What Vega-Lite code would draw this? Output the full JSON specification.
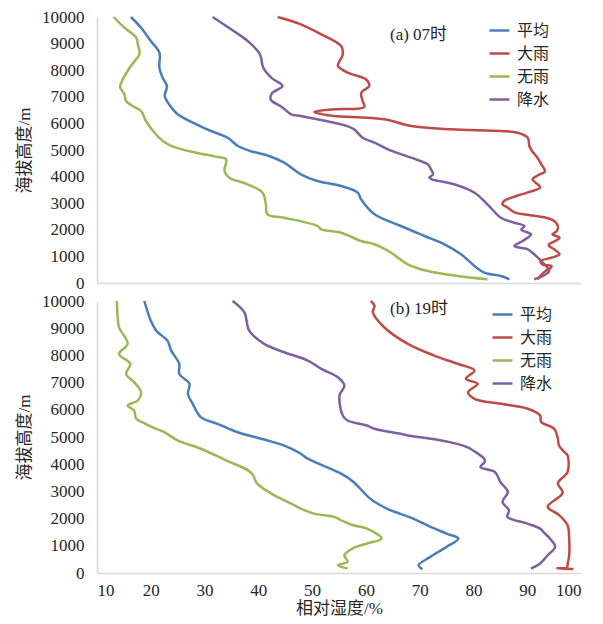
{
  "$schema": "https://vega.github.io/schema/vega-lite/v6.json",
  "background": "white",
  "padding": {"left": 15, "top": 8, "right": 10, "bottom": 4},
  "config": {
    "view": {"stroke": null},
    "axis": {"grid": false, "ticks": false, "domainColor": "#d9d9d9", "domainWidth": 1.5,
      "labelFont": "Liberation Serif", "labelFontSize": 17, "labelColor": "#262626",
      "titleFont": "Liberation Serif, Noto Sans CJK SC", "titleFontSize": 17, "titleFontWeight": "normal", "titleColor": "#262626"},
    "legend": {"symbolType": "stroke", "symbolStrokeWidth": 2.5, "symbolSize": 400, "labelFont": "Noto Sans CJK SC", "labelFontSize": 16, "labelColor": "#262626", "rowPadding": 3, "labelOffset": 6, "padding": 0},
    "title": {"font": "Liberation Serif, Noto Sans CJK SC", "fontSize": 17, "fontWeight": "normal", "color": "#262626", "anchor": "start", "frame": "group", "baseline": "middle"}
  },
  "spacing": 1,
  "resolve": {"legend": {"color": "independent"}},
  "data": {"values": [
    {"t":"a","s":"平均","alt":10000,"rh":16.3},{"t":"a","s":"平均","alt":9598,"rh":18.2},{"t":"a","s":"平均","alt":9098,"rh":20.0},{"t":"a","s":"平均","alt":8658,"rh":21.6},{"t":"a","s":"平均","alt":8094,"rh":21.6},{"t":"a","s":"平均","alt":7718,"rh":22.2},{"t":"a","s":"平均","alt":7406,"rh":23.0},{"t":"a","s":"平均","alt":7030,"rh":22.6},{"t":"a","s":"平均","alt":6718,"rh":23.4},{"t":"a","s":"平均","alt":6342,"rh":25.0},{"t":"a","s":"平均","alt":5966,"rh":28.5},{"t":"a","s":"平均","alt":5714,"rh":31.2},{"t":"a","s":"平均","alt":5462,"rh":34.3},{"t":"a","s":"平均","alt":5150,"rh":36.2},{"t":"a","s":"平均","alt":4962,"rh":38.5},{"t":"a","s":"平均","alt":4774,"rh":42.0},{"t":"a","s":"平均","alt":4523,"rh":44.8},{"t":"a","s":"平均","alt":4087,"rh":47.9},{"t":"a","s":"平均","alt":3835,"rh":51.0},{"t":"a","s":"平均","alt":3647,"rh":55.4},{"t":"a","s":"平均","alt":3395,"rh":58.5},{"t":"a","s":"平均","alt":3146,"rh":59.1},{"t":"a","s":"平均","alt":2583,"rh":61.6},{"t":"a","s":"平均","alt":2143,"rh":66.5},{"t":"a","s":"平均","alt":1767,"rh":70.9},{"t":"a","s":"平均","alt":1455,"rh":74.6},{"t":"a","s":"平均","alt":1079,"rh":77.7},{"t":"a","s":"平均","alt":639,"rh":80.2},{"t":"a","s":"平均","alt":387,"rh":82.0},{"t":"a","s":"平均","alt":263,"rh":85.1},{"t":"a","s":"平均","alt":139,"rh":86.7},
    {"t":"a","s":"无雨","alt":10000,"rh":13.1},{"t":"a","s":"无雨","alt":9598,"rh":15.1},{"t":"a","s":"无雨","alt":9222,"rh":17.3},{"t":"a","s":"无雨","alt":8974,"rh":17.6},{"t":"a","s":"无雨","alt":8620,"rh":17.9},{"t":"a","s":"无雨","alt":8158,"rh":16.3},{"t":"a","s":"无雨","alt":7657,"rh":14.8},{"t":"a","s":"无雨","alt":7368,"rh":14.3},{"t":"a","s":"无雨","alt":7094,"rh":15.1},{"t":"a","s":"无雨","alt":6842,"rh":15.4},{"t":"a","s":"无雨","alt":6654,"rh":16.6},{"t":"a","s":"无雨","alt":6466,"rh":18.2},{"t":"a","s":"无雨","alt":6090,"rh":19.1},{"t":"a","s":"无雨","alt":5650,"rh":20.7},{"t":"a","s":"无雨","alt":5300,"rh":22.5},{"t":"a","s":"无雨","alt":5100,"rh":24.5},{"t":"a","s":"无雨","alt":4900,"rh":28.5},{"t":"a","s":"无雨","alt":4750,"rh":32.0},{"t":"a","s":"无雨","alt":4650,"rh":34.0},{"t":"a","s":"无雨","alt":4211,"rh":33.7},{"t":"a","s":"无雨","alt":3959,"rh":34.6},{"t":"a","s":"无雨","alt":3710,"rh":38.0},{"t":"a","s":"无雨","alt":3395,"rh":40.8},{"t":"a","s":"无雨","alt":2959,"rh":41.4},{"t":"a","s":"无雨","alt":2583,"rh":41.7},{"t":"a","s":"无雨","alt":2455,"rh":44.8},{"t":"a","s":"无雨","alt":2143,"rh":51.0},{"t":"a","s":"无雨","alt":2019,"rh":51.7},{"t":"a","s":"无雨","alt":1891,"rh":55.4},{"t":"a","s":"无雨","alt":1579,"rh":59.1},{"t":"a","s":"无雨","alt":1455,"rh":61.6},{"t":"a","s":"无雨","alt":1139,"rh":64.7},{"t":"a","s":"无雨","alt":703,"rh":67.8},{"t":"a","s":"无雨","alt":451,"rh":71.5},{"t":"a","s":"无雨","alt":263,"rh":77.1},{"t":"a","s":"无雨","alt":139,"rh":82.6},
    {"t":"a","s":"降水","alt":10000,"rh":31.5},{"t":"a","s":"降水","alt":9500,"rh":35.2},{"t":"a","s":"降水","alt":9100,"rh":38.0},{"t":"a","s":"降水","alt":8600,"rh":40.3},{"t":"a","s":"降水","alt":8100,"rh":40.9},{"t":"a","s":"降水","alt":7700,"rh":42.5},{"t":"a","s":"降水","alt":7406,"rh":44.5},{"t":"a","s":"降水","alt":7150,"rh":42.6},{"t":"a","s":"降水","alt":6900,"rh":42.3},{"t":"a","s":"降水","alt":6600,"rh":44.5},{"t":"a","s":"降水","alt":6342,"rh":46.1},{"t":"a","s":"降水","alt":6278,"rh":47.9},{"t":"a","s":"降水","alt":6154,"rh":51.0},{"t":"a","s":"降水","alt":6026,"rh":54.1},{"t":"a","s":"降水","alt":5900,"rh":56.5},{"t":"a","s":"降水","alt":5778,"rh":57.8},{"t":"a","s":"降水","alt":5462,"rh":59.4},{"t":"a","s":"降水","alt":5274,"rh":61.6},{"t":"a","s":"降水","alt":5026,"rh":64.1},{"t":"a","s":"降水","alt":4711,"rh":68.4},{"t":"a","s":"降水","alt":4462,"rh":71.5},{"t":"a","s":"降水","alt":4274,"rh":72.1},{"t":"a","s":"降水","alt":4087,"rh":72.5},{"t":"a","s":"降水","alt":3959,"rh":71.8},{"t":"a","s":"降水","alt":3898,"rh":72.3},{"t":"a","s":"降水","alt":3710,"rh":76.4},{"t":"a","s":"降水","alt":3395,"rh":80.2},{"t":"a","s":"降水","alt":2959,"rh":82.6},{"t":"a","s":"降水","alt":2455,"rh":85.1},{"t":"a","s":"降水","alt":2267,"rh":87.6},{"t":"a","s":"降水","alt":2143,"rh":89.5},{"t":"a","s":"降水","alt":2000,"rh":88.9},{"t":"a","s":"降水","alt":1831,"rh":90.7},{"t":"a","s":"降水","alt":1600,"rh":89.3},{"t":"a","s":"降水","alt":1391,"rh":87.6},{"t":"a","s":"降水","alt":1267,"rh":90.1},{"t":"a","s":"降水","alt":1079,"rh":91.3},{"t":"a","s":"降水","alt":827,"rh":92.6},{"t":"a","s":"降水","alt":639,"rh":93.5},{"t":"a","s":"降水","alt":451,"rh":94.1},{"t":"a","s":"降水","alt":263,"rh":92.9},{"t":"a","s":"降水","alt":139,"rh":91.3},
    {"t":"a","s":"大雨","alt":10000,"rh":43.6},{"t":"a","s":"大雨","alt":9725,"rh":47.9},{"t":"a","s":"大雨","alt":9349,"rh":51.7},{"t":"a","s":"大雨","alt":8910,"rh":55.4},{"t":"a","s":"大雨","alt":8598,"rh":55.7},{"t":"a","s":"大雨","alt":8300,"rh":55.0},{"t":"a","s":"大雨","alt":8158,"rh":54.8},{"t":"a","s":"大雨","alt":7906,"rh":56.6},{"t":"a","s":"大雨","alt":7658,"rh":60.0},{"t":"a","s":"大雨","alt":7406,"rh":60.6},{"t":"a","s":"大雨","alt":7200,"rh":59.3},{"t":"a","s":"大雨","alt":7094,"rh":59.1},{"t":"a","s":"大雨","alt":6842,"rh":59.4},{"t":"a","s":"大雨","alt":6617,"rh":59.7},{"t":"a","s":"大雨","alt":6530,"rh":54.1},{"t":"a","s":"大雨","alt":6430,"rh":50.4},{"t":"a","s":"大雨","alt":6340,"rh":52.0},{"t":"a","s":"大雨","alt":6278,"rh":54.1},{"t":"a","s":"大雨","alt":6154,"rh":63.4},{"t":"a","s":"大雨","alt":5902,"rh":68.4},{"t":"a","s":"大雨","alt":5778,"rh":75.8},{"t":"a","s":"大雨","alt":5714,"rh":85.1},{"t":"a","s":"大雨","alt":5650,"rh":88.2},{"t":"a","s":"大雨","alt":5462,"rh":90.1},{"t":"a","s":"大雨","alt":5150,"rh":90.4},{"t":"a","s":"大雨","alt":4962,"rh":90.9},{"t":"a","s":"大雨","alt":4711,"rh":91.9},{"t":"a","s":"大雨","alt":4400,"rh":92.8},{"t":"a","s":"大雨","alt":4200,"rh":93.3},{"t":"a","s":"大雨","alt":4050,"rh":92.0},{"t":"a","s":"大雨","alt":3898,"rh":91.0},{"t":"a","s":"大雨","alt":3700,"rh":92.0},{"t":"a","s":"大雨","alt":3583,"rh":92.4},{"t":"a","s":"大雨","alt":3400,"rh":90.0},{"t":"a","s":"大雨","alt":3271,"rh":88.0},{"t":"a","s":"大雨","alt":3083,"rh":85.7},{"t":"a","s":"大雨","alt":2959,"rh":85.4},{"t":"a","s":"大雨","alt":2831,"rh":86.4},{"t":"a","s":"大雨","alt":2643,"rh":87.8},{"t":"a","s":"大雨","alt":2550,"rh":90.5},{"t":"a","s":"大雨","alt":2455,"rh":93.5},{"t":"a","s":"大雨","alt":2331,"rh":95.0},{"t":"a","s":"大雨","alt":2143,"rh":95.7},{"t":"a","s":"大雨","alt":1950,"rh":95.5},{"t":"a","s":"大雨","alt":1831,"rh":94.7},{"t":"a","s":"大雨","alt":1703,"rh":96.0},{"t":"a","s":"大雨","alt":1579,"rh":95.2},{"t":"a","s":"大雨","alt":1450,"rh":94.0},{"t":"a","s":"大雨","alt":1391,"rh":94.1},{"t":"a","s":"大雨","alt":1267,"rh":95.0},{"t":"a","s":"大雨","alt":1079,"rh":96.0},{"t":"a","s":"大雨","alt":950,"rh":94.5},{"t":"a","s":"大雨","alt":827,"rh":92.5},{"t":"a","s":"大雨","alt":703,"rh":92.8},{"t":"a","s":"大雨","alt":639,"rh":94.5},{"t":"a","s":"大雨","alt":575,"rh":94.4},{"t":"a","s":"大雨","alt":451,"rh":93.4},{"t":"a","s":"大雨","alt":300,"rh":92.6},{"t":"a","s":"大雨","alt":139,"rh":91.9},
    {"t":"b","s":"平均","alt":10000,"rh":18.8},{"t":"b","s":"平均","alt":9277,"rh":20.0},{"t":"b","s":"平均","alt":8910,"rh":21.0},{"t":"b","s":"平均","alt":8543,"rh":23.1},{"t":"b","s":"平均","alt":8176,"rh":23.8},{"t":"b","s":"平均","alt":7688,"rh":25.3},{"t":"b","s":"平均","alt":7321,"rh":25.3},{"t":"b","s":"平均","alt":6954,"rh":27.2},{"t":"b","s":"平均","alt":6587,"rh":26.9},{"t":"b","s":"平均","alt":6220,"rh":27.8},{"t":"b","s":"平均","alt":5732,"rh":29.3},{"t":"b","s":"平均","alt":5486,"rh":32.4},{"t":"b","s":"平均","alt":5182,"rh":36.0},{"t":"b","s":"平均","alt":4998,"rh":39.3},{"t":"b","s":"平均","alt":4873,"rh":41.7},{"t":"b","s":"平均","alt":4631,"rh":45.5},{"t":"b","s":"平均","alt":4385,"rh":47.9},{"t":"b","s":"平均","alt":4202,"rh":49.2},{"t":"b","s":"平均","alt":3651,"rh":55.4},{"t":"b","s":"平均","alt":3347,"rh":57.7},{"t":"b","s":"平均","alt":2734,"rh":60.8},{"t":"b","s":"平均","alt":2367,"rh":63.9},{"t":"b","s":"平均","alt":2000,"rh":68.8},{"t":"b","s":"平均","alt":1695,"rh":72.0},{"t":"b","s":"平均","alt":1450,"rh":75.0},{"t":"b","s":"平均","alt":1266,"rh":77.2},{"t":"b","s":"平均","alt":961,"rh":75.0},{"t":"b","s":"平均","alt":594,"rh":72.0},{"t":"b","s":"平均","alt":286,"rh":69.8},{"t":"b","s":"平均","alt":140,"rh":70.5},
    {"t":"b","s":"无雨","alt":10000,"rh":13.7},{"t":"b","s":"无雨","alt":9523,"rh":13.8},{"t":"b","s":"无雨","alt":9035,"rh":14.1},{"t":"b","s":"无雨","alt":8422,"rh":15.7},{"t":"b","s":"无雨","alt":8055,"rh":14.1},{"t":"b","s":"无雨","alt":7688,"rh":16.2},{"t":"b","s":"无雨","alt":7321,"rh":15.4},{"t":"b","s":"无雨","alt":7017,"rh":16.9},{"t":"b","s":"无雨","alt":6650,"rh":18.2},{"t":"b","s":"无雨","alt":6342,"rh":17.6},{"t":"b","s":"无雨","alt":6158,"rh":15.7},{"t":"b","s":"无雨","alt":5974,"rh":16.9},{"t":"b","s":"无雨","alt":5670,"rh":17.3},{"t":"b","s":"无雨","alt":5486,"rh":19.0},{"t":"b","s":"无雨","alt":5300,"rh":21.0},{"t":"b","s":"无雨","alt":5182,"rh":22.5},{"t":"b","s":"无雨","alt":4873,"rh":25.0},{"t":"b","s":"无雨","alt":4569,"rh":29.3},{"t":"b","s":"无雨","alt":4140,"rh":34.0},{"t":"b","s":"无雨","alt":3773,"rh":38.1},{"t":"b","s":"无雨","alt":3600,"rh":39.0},{"t":"b","s":"无雨","alt":3468,"rh":39.3},{"t":"b","s":"无雨","alt":3284,"rh":39.8},{"t":"b","s":"无雨","alt":2917,"rh":42.4},{"t":"b","s":"无雨","alt":2550,"rh":46.1},{"t":"b","s":"无雨","alt":2367,"rh":47.9},{"t":"b","s":"无雨","alt":2183,"rh":50.4},{"t":"b","s":"无雨","alt":2062,"rh":54.1},{"t":"b","s":"无雨","alt":1938,"rh":55.4},{"t":"b","s":"无雨","alt":1754,"rh":57.7},{"t":"b","s":"无雨","alt":1633,"rh":60.2},{"t":"b","s":"无雨","alt":1266,"rh":62.9},{"t":"b","s":"无雨","alt":1083,"rh":60.2},{"t":"b","s":"无雨","alt":899,"rh":57.5},{"t":"b","s":"无雨","alt":653,"rh":56.0},{"t":"b","s":"无雨","alt":411,"rh":56.6},{"t":"b","s":"无雨","alt":286,"rh":54.8},{"t":"b","s":"无雨","alt":165,"rh":56.6},
    {"t":"b","s":"降水","alt":10000,"rh":35.2},{"t":"b","s":"降水","alt":9585,"rh":37.4},{"t":"b","s":"降水","alt":8910,"rh":38.3},{"t":"b","s":"降水","alt":8422,"rh":41.1},{"t":"b","s":"降水","alt":8117,"rh":44.8},{"t":"b","s":"降水","alt":7809,"rh":49.2},{"t":"b","s":"降水","alt":7505,"rh":51.7},{"t":"b","s":"降水","alt":7200,"rh":54.8},{"t":"b","s":"降水","alt":6892,"rh":56.0},{"t":"b","s":"降水","alt":6525,"rh":55.1},{"t":"b","s":"降水","alt":5791,"rh":55.7},{"t":"b","s":"降水","alt":5607,"rh":56.6},{"t":"b","s":"降水","alt":5424,"rh":60.2},{"t":"b","s":"降水","alt":5303,"rh":61.6},{"t":"b","s":"降水","alt":5119,"rh":66.4},{"t":"b","s":"降水","alt":5057,"rh":67.8},{"t":"b","s":"降水","alt":4873,"rh":74.0},{"t":"b","s":"降水","alt":4631,"rh":78.8},{"t":"b","s":"降水","alt":4323,"rh":81.3},{"t":"b","s":"降水","alt":4202,"rh":82.0},{"t":"b","s":"降水","alt":4081,"rh":82.1},{"t":"b","s":"降水","alt":3897,"rh":81.3},{"t":"b","s":"降水","alt":3714,"rh":84.0},{"t":"b","s":"降水","alt":3347,"rh":85.0},{"t":"b","s":"降水","alt":2980,"rh":86.4},{"t":"b","s":"降水","alt":2613,"rh":85.4},{"t":"b","s":"降水","alt":2305,"rh":86.6},{"t":"b","s":"降水","alt":2062,"rh":86.3},{"t":"b","s":"降水","alt":1817,"rh":90.0},{"t":"b","s":"降水","alt":1633,"rh":92.4},{"t":"b","s":"降水","alt":1512,"rh":93.0},{"t":"b","s":"降水","alt":1266,"rh":94.2},{"t":"b","s":"降水","alt":961,"rh":95.2},{"t":"b","s":"降水","alt":653,"rh":93.8},{"t":"b","s":"降水","alt":349,"rh":92.4},{"t":"b","s":"降水","alt":165,"rh":90.7},
    {"t":"b","s":"大雨","alt":10000,"rh":60.9},{"t":"b","s":"大雨","alt":9828,"rh":61.6},{"t":"b","s":"大雨","alt":9585,"rh":61.3},{"t":"b","s":"大雨","alt":9035,"rh":63.4},{"t":"b","s":"大雨","alt":8422,"rh":67.8},{"t":"b","s":"大雨","alt":7993,"rh":72.7},{"t":"b","s":"大雨","alt":7688,"rh":77.1},{"t":"b","s":"大雨","alt":7443,"rh":80.2},{"t":"b","s":"大雨","alt":7138,"rh":78.6},{"t":"b","s":"大雨","alt":6954,"rh":80.8},{"t":"b","s":"大雨","alt":6650,"rh":79.0},{"t":"b","s":"大雨","alt":6404,"rh":80.2},{"t":"b","s":"大雨","alt":6220,"rh":85.1},{"t":"b","s":"大雨","alt":6037,"rh":90.1},{"t":"b","s":"大雨","alt":5791,"rh":92.4},{"t":"b","s":"大雨","alt":5549,"rh":92.6},{"t":"b","s":"大雨","alt":5303,"rh":95.0},{"t":"b","s":"大雨","alt":4936,"rh":95.7},{"t":"b","s":"大雨","alt":4690,"rh":95.9},{"t":"b","s":"大雨","alt":4447,"rh":96.9},{"t":"b","s":"大雨","alt":4323,"rh":97.5},{"t":"b","s":"大雨","alt":3714,"rh":97.5},{"t":"b","s":"大雨","alt":3300,"rh":95.7},{"t":"b","s":"大雨","alt":2950,"rh":96.6},{"t":"b","s":"大雨","alt":2430,"rh":93.8},{"t":"b","s":"大雨","alt":2150,"rh":95.8},{"t":"b","s":"大雨","alt":1754,"rh":97.5},{"t":"b","s":"大雨","alt":1266,"rh":97.8},{"t":"b","s":"大雨","alt":653,"rh":97.8},{"t":"b","s":"大雨","alt":312,"rh":97.5},{"t":"b","s":"大雨","alt":200,"rh":97.4},{"t":"b","s":"大雨","alt":170,"rh":95.6},{"t":"b","s":"大雨","alt":150,"rh":98.6}
  ]},
  "vconcat": [
    {
      "title": {"text": "(a) 07时", "dx": 293, "dy": 40},
      "width": 484, "height": 266,
      "transform": [{"filter": "datum.t === 'a'"}],
      "mark": {"type": "line", "strokeWidth": 2.5, "interpolate": "catmull-rom"},
      "encoding": {
        "x": {"field": "rh", "type": "quantitative", "scale": {"domain": [10, 100], "nice": false}, "axis": {"labels": false, "title": null, "values": [10,20,30,40,50,60,70,80,90,100]}},
        "y": {"field": "alt", "type": "quantitative", "scale": {"domain": [0, 10000], "nice": false}, "axis": {"title": "海拔高度/m", "format": "d", "values": [0,1000,2000,3000,4000,5000,6000,7000,8000,9000,10000], "labelPadding": 13, "titlePadding": 8}},
        "color": {"field": "s", "type": "nominal", "scale": {"domain": ["平均","大雨","无雨","降水"], "range": ["#4A7EBB","#BE4B48","#98B954","#7D60A0"]}, "legend": {"title": null, "orient": "none", "legendX": 391, "legendY": 2}},
        "order": {"field": "alt", "type": "quantitative"}
      }
    },
    {
      "title": {"text": "(b) 19时", "dx": 293, "dy": 30},
      "width": 484, "height": 272,
      "transform": [{"filter": "datum.t === 'b'"}],
      "mark": {"type": "line", "strokeWidth": 2.5, "interpolate": "catmull-rom"},
      "encoding": {
        "x": {"field": "rh", "type": "quantitative", "scale": {"domain": [10, 100], "nice": false}, "axis": {"title": "相对湿度/%", "values": [10,20,30,40,50,60,70,80,90,100], "labelPadding": 9, "titlePadding": 2}},
        "y": {"field": "alt", "type": "quantitative", "scale": {"domain": [0, 10000], "nice": false}, "axis": {"title": "海拔高度/m", "format": "d", "values": [0,1000,2000,3000,4000,5000,6000,7000,8000,9000,10000], "labelPadding": 13, "titlePadding": 8}},
        "color": {"field": "s", "type": "nominal", "scale": {"domain": ["平均","大雨","无雨","降水"], "range": ["#4A7EBB","#BE4B48","#98B954","#7D60A0"]}, "legend": {"title": null, "orient": "none", "legendX": 394, "legendY": 2}},
        "order": {"field": "alt", "type": "quantitative"}
      }
    }
  ]
}
